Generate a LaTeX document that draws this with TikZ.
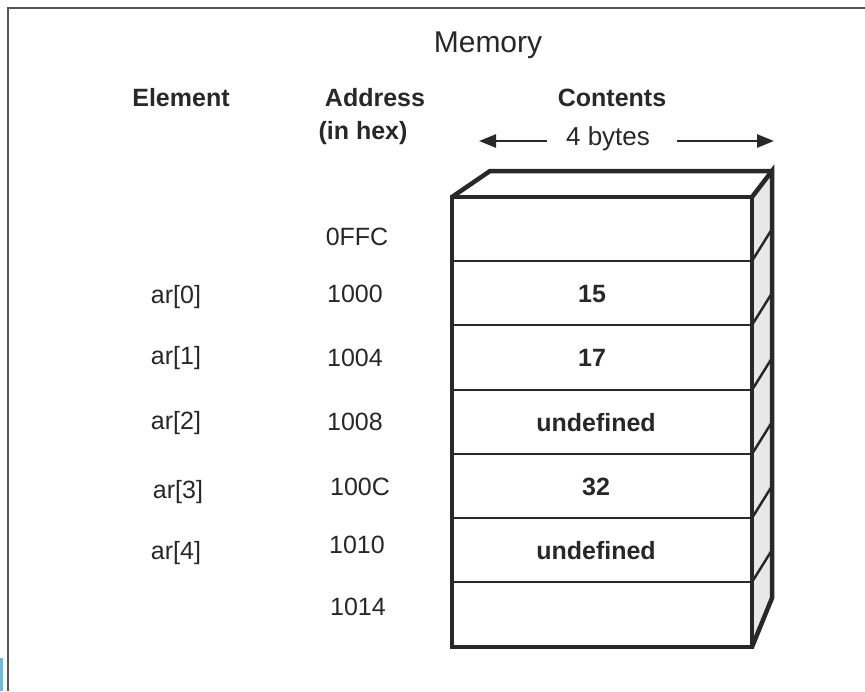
\documentclass[tikz,border=0pt]{standalone}
\usepackage{fontspec}
\setmainfont{Liberation Sans}
\usetikzlibrary{arrows.meta}
\definecolor{ink}{RGB}{40,40,40}
\definecolor{sideface}{RGB}{232,232,232}
\definecolor{framegray}{RGB}{85,85,85}
\definecolor{edgeblue}{RGB}{110,185,220}
\begin{document}
\begin{tikzpicture}[x=1pt,y=-1pt,
  lbl/.style={font=\fontsize{25}{29}\selectfont, inner sep=0pt, text=ink},
  hdr/.style={font=\fontsize{25}{29}\selectfont\bfseries, inner sep=0pt, text=ink},
  cell/.style={font=\fontsize{25}{29}\selectfont\bfseries, inner sep=0pt, text=ink},
  outline/.style={draw=ink, line width=4.5pt, line join=miter},
  rowline/.style={draw=ink, line width=2pt},
  hatch/.style={draw=ink, line width=2.5pt},
  span/.style={draw=ink, line width=2.5pt, -{Triangle[length=17pt,width=13pt]}}]
\useasboundingbox (0,0) rectangle (865,691);
\fill[white] (0,0) rectangle (865,691);

% page frame
\draw[framegray, line width=2.5pt] (8,691) -- (8,8) -- (865,8);
\fill[edgeblue] (0,658) rectangle (2.5,691);

% headings
\node[lbl, font=\fontsize{30}{34}\selectfont] (mem) at (488,45) {Memory};
\node[hdr] (helem) at (181,98) {Element};
\node[hdr] (haddr) at (375,98) {Address};
\node[hdr] (hhex) at (363,133) {(in hex)};
\node[hdr] (hcont) at (612,98) {Contents};
\node[lbl, font=\fontsize{26}{30}\selectfont] (bytes) at (608,139) {4 bytes};
\coordinate (lstart) at (547,141);
\coordinate (lend) at (479,141);
\coordinate (rstart) at (677,141);
\coordinate (rend) at (774,141);
\draw[span] (lstart) -- (lend);
\draw[span] (rstart) -- (rend);

% side face of the memory block
\fill[sideface] (752,197) -- (772,171) -- (772,598) -- (752,647) -- cycle;
\foreach \y in {261,325,390,454,518,582}
  \draw[hatch] (752,\y) -- (772,\y-32);
\draw[outline] (752,197) -- (772,171) -- (772,598) -- (752,647);

% top face
\draw[outline] (452,197) -- (490,171) -- (772,171);

% front face with the word cells
\foreach \y in {261,325,390,454,518,582}
  \draw[rowline] (452,\y) -- (752,\y);
\draw[outline] (452,197) rectangle (752,647);

% addresses
\node[lbl] (a0) at (357,237) {0FFC};
\node[lbl] (a1) at (355,294) {1000};
\node[lbl] (a2) at (355,358) {1004};
\node[lbl] (a3) at (355,422) {1008};
\node[lbl] (a4) at (360,487) {100C};
\node[lbl] (a5) at (357,545) {1010};
\node[lbl] (a6) at (358,607) {1014};

% array elements
\node[lbl] (e0) at (176,297) {ar[0]};
\node[lbl] (e1) at (176,358) {ar[1]};
\node[lbl] (e2) at (176,423) {ar[2]};
\node[lbl] (e3) at (178,492) {ar[3]};
\node[lbl] (e4) at (176,553) {ar[4]};

% contents
\node[cell] (c1) at (592,294) {15};
\node[cell] (c2) at (592,358) {17};
\node[cell] (c3) at (596,423) {undefined};
\node[cell] (c4) at (596,487) {32};
\node[cell] (c5) at (596,551) {undefined};
\end{tikzpicture}
\end{document}
